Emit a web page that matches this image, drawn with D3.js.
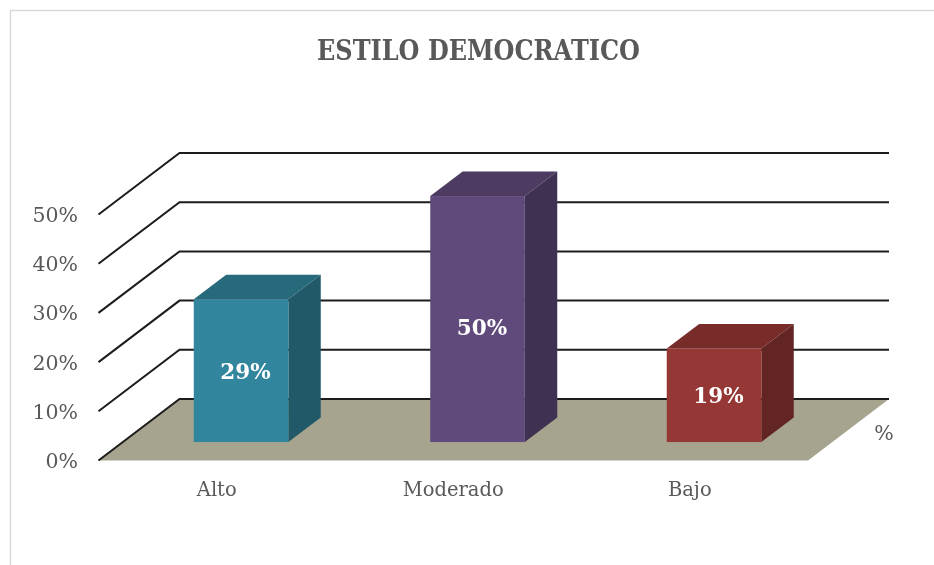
<!DOCTYPE html>
<html><head><meta charset="utf-8">
<script src="https://cdnjs.cloudflare.com/ajax/libs/d3/7.8.5/d3.min.js"></script>
<style>html,body{margin:0;background:#fff;overflow:hidden}svg{display:block;filter:blur(.5px)}text{font-family:"DejaVu Serif","Liberation Serif",serif}</style>
</head><body><svg id="c" width="934" height="565"></svg>
<script>
const titleText = "ESTILO DEMOCRATICO";
const categories = ["Alto","Moderado","Bajo"];
const values = [29,50,19];
const valueLabels = ["29%","50%","19%"];
const faceColors = ["#31859c","#604a7b","#953735"];
const topColors = ["#276a7c","#4d3b62","#772c2a"];
const sideColors = ["#215968","#3f3151","#632523"];
const yTicks = [0,10,20,30,40,50];
const gridValues = [0,10,20,30,40,50];
const depthLabel = "%";

const svg = d3.select("#c");
const x = d3.scaleBand().domain(categories).range([98.5,808]).paddingInner(0.6).paddingOuter(0.3);
const y = d3.scaleLinear().domain([0,50]).range([460.5,214.5]);
// depth axis: 0 = front of floor, 1 = back wall
const dx = d3.scaleLinear().domain([0,1]).range([0,81]);
const dy = d3.scaleLinear().domain([0,1]).range([0,-61.5]);
const barFront = 0.3, barBack = 0.7;
const pt = (px,py,d)=>[px+dx(d),py+dy(d)];
const poly = a=>a.map(p=>p.join(",")).join(" ");

svg.append("rect").attr("x",10.5).attr("y",10.5).attr("width",940).attr("height",570)
  .attr("fill","#fff").attr("stroke","#d9d9d9").attr("stroke-width",1.4);

const x0=x.range()[0], x1=x.range()[1];
svg.append("polygon").attr("points",poly([pt(x0,y(0),0),pt(x1,y(0),0),pt(x1,y(0),1),pt(x0,y(0),1)])).attr("fill","#a6a48f");

svg.append("g").selectAll("path").data(gridValues).join("path")
  .attr("d",v=>d3.line()([pt(x0,y(v),0),pt(x0,y(v),1),pt(x1,y(v),1)]))
  .attr("fill","none").attr("stroke","#1c1c1c").attr("stroke-width",2);

const bars = svg.append("g").selectAll("g").data(categories).join("g");
bars.each(function(c,i){
  const g=d3.select(this), l=x(c), r=l+x.bandwidth(), t=y(values[i]), b=y(0);
  g.append("polygon").attr("points",poly([pt(l,t,barFront),pt(r,t,barFront),pt(r,t,barBack),pt(l,t,barBack)])).attr("fill",topColors[i]);
  g.append("polygon").attr("points",poly([pt(r,t,barFront),pt(r,t,barBack),pt(r,b,barBack),pt(r,b,barFront)])).attr("fill",sideColors[i]);
  const f=pt(l,t,barFront), f2=pt(r,b,barFront);
  g.append("rect").attr("x",f[0]).attr("y",f[1]).attr("width",f2[0]-f[0]).attr("height",f2[1]-f[1]).attr("fill",faceColors[i]);
  const ly=(f[1]+f2[1])/2+8+(values[i]===50?8:0);
  g.append("text").attr("x",(f[0]+f2[0])/2+4.5).attr("y",ly)
    .attr("text-anchor","middle").attr("fill","#fff").attr("font-weight","bold").attr("font-size",21.5).text(valueLabels[i]);
});

svg.append("g").selectAll("text").data(yTicks).join("text")
  .attr("x",78).attr("y",v=>y(v)+7.5).attr("text-anchor","end").attr("fill","#595959").attr("font-size",20.5)
  .text(v=>v+"%");
svg.append("g").selectAll("text").data(categories).join("text")
  .attr("x",c=>x(c)+x.bandwidth()/2).attr("y",496).attr("text-anchor","middle").attr("fill","#595959").attr("font-size",19.5)
  .text(c=>c);
svg.append("text").attr("x",884).attr("y",439.5).attr("text-anchor","middle").attr("fill","#595959").attr("font-size",20.5).text(depthLabel);
svg.append("text").attr("x",478.5).attr("y",60).attr("text-anchor","middle").attr("fill","#595959").attr("font-weight","bold").attr("font-size",27)
  .attr("textLength",323).attr("lengthAdjust","spacingAndGlyphs").text(titleText);
</script></body></html>
